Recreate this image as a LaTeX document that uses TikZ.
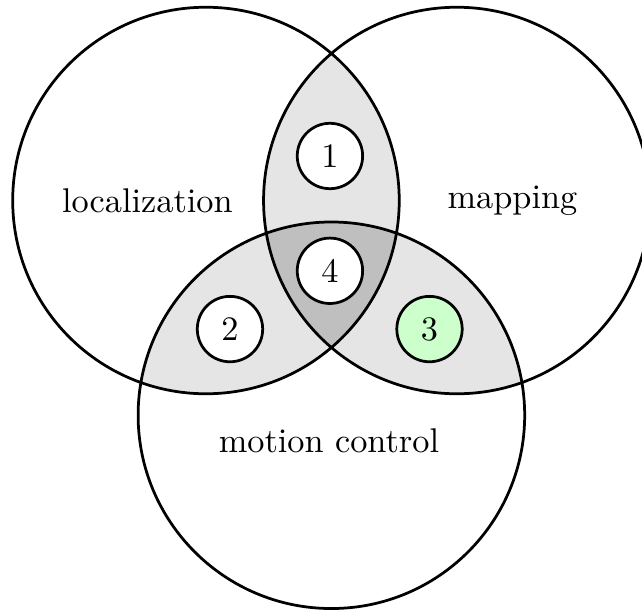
\documentclass[tikz,border=0pt]{standalone}

\begin{document}
\begin{tikzpicture}[thick,num/.style = {draw, circle, fill=white, minimum size=0.67cm, inner sep=0pt}]
\useasboundingbox (-2.11,-4.206) rectangle (4.467,2.054);
\coordinate (L) at (0,0);
\coordinate (R) at (2.57,0);
\coordinate (B) at (1.285,-2.2);
\def\rad{1.98}
% pairwise overlaps
\begin{scope} \clip (L) circle (\rad); \fill[gray!20] (R) circle (\rad); \fill[gray!20] (B) circle (\rad); \end{scope}
\begin{scope} \clip (R) circle (\rad); \fill[gray!20] (B) circle (\rad); \end{scope}
\begin{scope} \clip (L) circle (\rad); \clip (R) circle (\rad); \fill[gray!50] (B) circle (\rad); \end{scope}
\draw (L) circle (\rad) (R) circle (\rad) (B) circle (\rad);
\node (loc) at (-0.6,0) {localization};
\node (map) at (3.14,0) {mapping};
\node (mot) at (1.26,-2.46) {motion control};
\node[num] (n1) at (1.27,0.456) {1};
\node[num] (n2) at (0.246,-1.317) {2};
\node[num,fill=green!20] (n3) at (2.29,-1.317) {3};
\node[num] (n4) at (1.27,-0.72) {4};
\end{tikzpicture}
\end{document}
